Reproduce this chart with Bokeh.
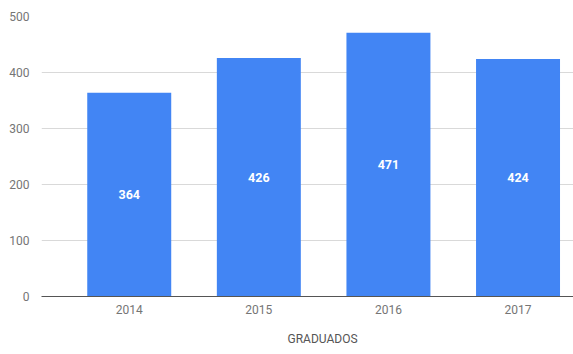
from bokeh.plotting import figure
from bokeh.embed import file_html
from bokeh.resources import INLINE
from bokeh.models import ColumnDataSource, FixedTicker, Range1d, Title, LabelSet
from bokeh.core.properties import value

years = ["2014", "2015", "2016", "2017"]
graduados = [364, 426, 471, 424]
y_ticks = [0, 100, 200, 300, 400, 500]
x_title = "GRADUADOS"

idx = list(range(len(years)))
src = ColumnDataSource(dict(
    x=idx,
    top=graduados,
    mid=[v / 2 for v in graduados],
    lbl=[str(v) for v in graduados],
))

p = figure(frame_width=532, frame_height=280, output_backend="svg", toolbar_location=None,
           min_border_left=41, min_border_right=0, min_border_top=16, min_border_bottom=0,
           x_range=Range1d(-0.677, 3.428), y_range=Range1d(0, 500))
p.outline_line_color = None
p.background_fill_color = "white"
p.border_fill_color = "white"

p.vbar(x="x", top="top", width=0.648, source=src, fill_color="#4285F4", line_color=None)

labels = LabelSet(x="x", y="mid", text="lbl", source=src, text_align="center", text_baseline="middle",
                  text_color="white", text_font=value("Roboto"), text_font_style="bold", text_font_size="12.5px")
p.add_layout(labels)

p.xaxis.ticker = FixedTicker(ticks=idx)
p.xaxis.major_label_overrides = {i: y for i, y in enumerate(years)}
p.xaxis.major_tick_line_color = None
p.xaxis.minor_tick_line_color = None
p.xaxis.axis_line_color = "#555555"
p.xaxis.axis_line_width = 1
p.xaxis.major_label_text_color = "#757575"
p.xaxis.major_label_text_font = "Roboto"
p.xaxis.major_label_text_font_size = "12px"
p.xaxis.major_label_standoff = 2

p.yaxis.ticker = FixedTicker(ticks=y_ticks)
p.yaxis.major_tick_line_color = None
p.yaxis.minor_tick_line_color = None
p.yaxis.axis_line_color = None
p.yaxis.major_label_text_color = "#757575"
p.yaxis.major_label_text_font = "Roboto"
p.yaxis.major_label_text_font_size = "12px"
p.yaxis.major_label_standoff = 6

p.xgrid.grid_line_color = None
p.ygrid.grid_line_color = "#d9d9d9"
p.ygrid.ticker = FixedTicker(ticks=y_ticks)

t = Title(text=x_title, align="left", offset=246, text_color="#555555", text_font="Roboto",
          text_font_size="12px", text_font_style="normal", standoff=27)
p.add_layout(t, "below")

open("out.html", "w").write(file_html(p, INLINE))
